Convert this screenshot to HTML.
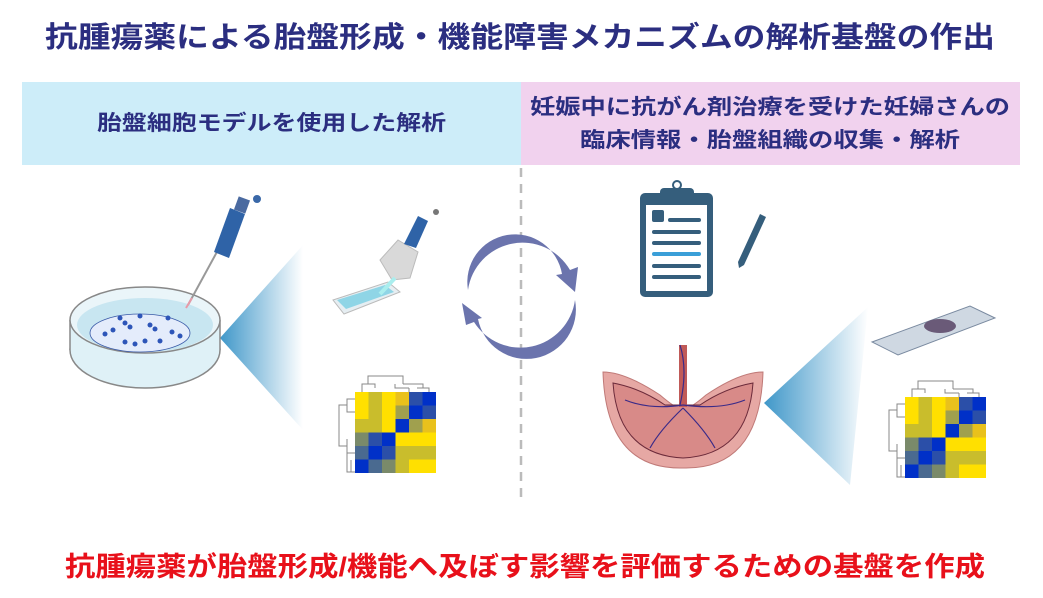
<!DOCTYPE html>
<html><head><meta charset="utf-8"><style>
html,body{margin:0;padding:0;background:#fff;width:1043px;height:598px;overflow:hidden}
svg{display:block}
text{font-family:"Liberation Sans","Noto Sans CJK JP",sans-serif;font-weight:bold}
</style></head><body>
<svg width="1043" height="598" viewBox="0 0 1043 598" xmlns="http://www.w3.org/2000/svg">
<defs>
<linearGradient id="cone" x1="0" x2="1" y1="0" y2="0">
<stop offset="0" stop-color="#3f97c9"/><stop offset="1" stop-color="#3f97c9" stop-opacity="0"/>
</linearGradient>
</defs>
<text x="45" y="47" font-size="29" fill="#2b2e80" textLength="950" lengthAdjust="spacingAndGlyphs">抗腫瘍薬による胎盤形成・機能障害メカニズムの解析基盤の作出</text>
<rect x="22" y="82" width="499" height="83" fill="#cdedf9"/>
<rect x="521" y="82" width="499" height="83" fill="#f1d2ee"/>
<text x="97" y="130" font-size="21" fill="#2b2e80" textLength="349" lengthAdjust="spacingAndGlyphs">胎盤細胞モデルを使用した解析</text>
<text x="530" y="114" font-size="21" fill="#2b2e80" textLength="480" lengthAdjust="spacingAndGlyphs">妊娠中に抗がん剤治療を受けた妊婦さんの</text>
<text x="580" y="147" font-size="21" fill="#2b2e80" textLength="380" lengthAdjust="spacingAndGlyphs">臨床情報・胎盤組織の収集・解析</text>
<line x1="521" y1="168" x2="521" y2="502" stroke="#bbb" stroke-width="2.5" stroke-dasharray="9,7"/>

<!-- cycle arrows -->
<path d="M468 290 A55 55 0 0 1 570 270 L578 267 L575 292 L556 275 L562 274 A46 46 0 0 0 468 290 Z" fill="#6b74ad"/>
<path d="M575 300 A55 55 0 0 1 474 322 L466 325 L462 303 L482 318 L478 319 A46 46 0 0 0 575 300 Z" fill="#6b74ad"/>

<!-- cones -->
<polygon points="220,338 303,245 303,430" fill="url(#cone)"/>
<polygon points="764,403 868,307 850,485" fill="url(#cone)"/>

<!-- petri dish -->
<ellipse cx="145" cy="350" rx="75" ry="38" fill="#dff1f7" stroke="#888" stroke-width="1.5"/>
<rect x="70" y="320" width="150" height="30" fill="#dff1f7"/>
<line x1="70" y1="320" x2="70" y2="350" stroke="#888" stroke-width="1.5"/>
<line x1="220" y1="320" x2="220" y2="350" stroke="#888" stroke-width="1.5"/>
<ellipse cx="145" cy="320" rx="75" ry="33" fill="#eaf5f9" stroke="#888" stroke-width="1.5"/>
<ellipse cx="145" cy="325" rx="68" ry="27" fill="#c8e6f1"/>
<ellipse cx="140" cy="333" rx="50" ry="19" fill="#e4ecfb" stroke="#3a5aa8" stroke-width="0.8"/>
<g fill="#2d55b8">
<circle cx="105" cy="334" r="2.5"/><circle cx="113" cy="330" r="2.5"/><circle cx="125" cy="323" r="2.5"/><circle cx="130" cy="327" r="2.5"/><circle cx="150" cy="325" r="2.5"/><circle cx="155" cy="329" r="2.5"/><circle cx="145" cy="341" r="2.5"/><circle cx="160" cy="341" r="2.5"/><circle cx="172" cy="332" r="2.5"/><circle cx="180" cy="336" r="2.5"/><circle cx="125" cy="342" r="2.5"/><circle cx="168" cy="318" r="2.5"/><circle cx="140" cy="316" r="2.5"/><circle cx="120" cy="318" r="2.5"/><circle cx="135" cy="344" r="2.5"/>
</g>
<!-- pipette -->
<line x1="188" y1="305" x2="218" y2="250" stroke="#999" stroke-width="2"/>
<line x1="186" y1="308" x2="192" y2="298" stroke="#e89aa8" stroke-width="2"/>
<path d="M214 252 L230 208 L245 214 L229 258 Z" fill="#2f63a7"/>
<rect x="236" y="198" width="12" height="14" fill="#4a6aa0" transform="rotate(20 242 205)"/>
<circle cx="257" cy="199" r="4" fill="#3a68a8"/>
<!-- multichannel pipette & plate -->
<path d="M333 300 L388 282 L400 292 L344 314 Z" fill="#e6eef2" stroke="#bbb"/>
<path d="M337 300 L385 285 L394 292 L346 309 Z" fill="#8fd5e6"/>
<path d="M380 260 L398 240 L418 252 L410 278 L392 280 Z" fill="#d9d9d9" stroke="#bbb"/>
<line x1="395" y1="278" x2="380" y2="294" stroke="#aee" stroke-width="4"/>
<path d="M404 244 L418 216 L428 221 L416 248 Z" fill="#2f63a7"/>
<circle cx="436" cy="212" r="3" fill="#777"/>

<!-- clipboard -->
<rect x="640" y="193" width="73" height="104" rx="5" fill="#355e7c"/>
<rect x="646" y="205" width="61" height="86" fill="#fff"/>
<rect x="660" y="188" width="34" height="12" rx="4" fill="#355e7c"/>
<circle cx="677" cy="185" r="4" fill="none" stroke="#355e7c" stroke-width="2"/>
<rect x="652" y="210" width="12" height="12" rx="2" fill="#355e7c"/>
<g stroke="#355e7c" stroke-width="4" stroke-linecap="round">
<line x1="670" y1="220" x2="699" y2="220"/><line x1="654" y1="232" x2="699" y2="232"/><line x1="654" y1="243" x2="699" y2="243"/><line x1="654" y1="266" x2="699" y2="266"/><line x1="654" y1="277" x2="699" y2="277"/>
</g>
<line x1="654" y1="254" x2="699" y2="254" stroke="#3a9fd8" stroke-width="4" stroke-linecap="round"/>
<path d="M738 262 L760 214 L766 217 L744 265 L739 268 Z" fill="#355e7c"/>

<!-- slide -->
<path d="M872 342 L970 306 L995 318 L898 355 Z" fill="#cfd8e2" stroke="#7a8aa0"/>
<ellipse cx="940" cy="326" rx="16" ry="7" fill="#6a5a78"/>

<!-- placenta -->
<path d="M603 372 Q625 372 660 395 Q675 408 683 410 Q691 408 706 395 Q740 372 763 372 Q760 470 683 468 Q606 470 603 372 Z" fill="#e6a8a4" stroke="#c07a78"/>
<path d="M613 383 Q640 388 665 405 L700 405 Q725 388 753 383 Q748 455 683 458 Q618 455 613 383 Z" fill="#d88a88" stroke="#6b2a3a" stroke-width="1"/>
<rect x="679" y="345" width="8" height="62" fill="#c05a58"/>
<g stroke="#3a2a88" stroke-width="1.2" fill="none">
<path d="M683 405 Q650 410 625 400"/><path d="M683 405 Q720 410 745 400"/><path d="M683 408 Q660 430 650 448"/><path d="M683 408 Q705 430 715 448"/><path d="M680 345 Q688 370 680 405"/>
</g>

<!-- heatmaps -->
<g id="hm1" transform="translate(355,392)">
<g stroke="#888" fill="none" stroke-width="1">
<path d="M7 0 V-8 H20 V-4 M13 -8 V-16 H48 V-8 M54 0 V-4 M40 -8 V-4 H54 M62 -4 H74 V0 M68 -4 V-8 H48"/>
<path d="M0 7 H-8 V20 H0 M-8 13 H-16 V54 H-8 M-8 47 V61 H0 M-8 61 V80 H0 M-4 68 V80"/>
</g>
<rect x="0" y="0" width="13.5" height="13.5" fill="#ffe000"/><rect x="13.5" y="0" width="13.5" height="13.5" fill="#c9bd2c"/><rect x="27" y="0" width="13.5" height="13.5" fill="#ffe000"/><rect x="40.5" y="0" width="13.5" height="13.5" fill="#e9c11c"/><rect x="54" y="0" width="13.5" height="13.5" fill="#2b4fa8"/><rect x="67.5" y="0" width="13.5" height="13.5" fill="#0030c8"/>
<rect x="0" y="13.5" width="13.5" height="13.5" fill="#ffe000"/><rect x="13.5" y="13.5" width="13.5" height="13.5" fill="#c9bd2c"/><rect x="27" y="13.5" width="13.5" height="13.5" fill="#ffe000"/><rect x="40.5" y="13.5" width="13.5" height="13.5" fill="#a0a04e"/><rect x="54" y="13.5" width="13.5" height="13.5" fill="#0030c8"/><rect x="67.5" y="13.5" width="13.5" height="13.5" fill="#2b4fa8"/>
<rect x="0" y="27" width="13.5" height="13.5" fill="#c9bd2c"/><rect x="13.5" y="27" width="13.5" height="13.5" fill="#c9bd2c"/><rect x="27" y="27" width="13.5" height="13.5" fill="#ffe000"/><rect x="40.5" y="27" width="13.5" height="13.5" fill="#0030c8"/><rect x="54" y="27" width="13.5" height="13.5" fill="#a0a04e"/><rect x="67.5" y="27" width="13.5" height="13.5" fill="#e9c11c"/>
<rect x="0" y="40.5" width="13.5" height="13.5" fill="#7a8a6a"/><rect x="13.5" y="40.5" width="13.5" height="13.5" fill="#2b4fa8"/><rect x="27" y="40.5" width="13.5" height="13.5" fill="#0030c8"/><rect x="40.5" y="40.5" width="13.5" height="13.5" fill="#ffe000"/><rect x="54" y="40.5" width="13.5" height="13.5" fill="#ffe000"/><rect x="67.5" y="40.5" width="13.5" height="13.5" fill="#ffe000"/>
<rect x="0" y="54" width="13.5" height="13.5" fill="#4a6a90"/><rect x="13.5" y="54" width="13.5" height="13.5" fill="#0030c8"/><rect x="27" y="54" width="13.5" height="13.5" fill="#2b4fa8"/><rect x="40.5" y="54" width="13.5" height="13.5" fill="#c9bd2c"/><rect x="54" y="54" width="13.5" height="13.5" fill="#c9bd2c"/><rect x="67.5" y="54" width="13.5" height="13.5" fill="#c9bd2c"/>
<rect x="0" y="67.5" width="13.5" height="13.5" fill="#0030c8"/><rect x="13.5" y="67.5" width="13.5" height="13.5" fill="#4a6a90"/><rect x="27" y="67.5" width="13.5" height="13.5" fill="#7a8a6a"/><rect x="40.5" y="67.5" width="13.5" height="13.5" fill="#c9bd2c"/><rect x="54" y="67.5" width="13.5" height="13.5" fill="#ffe000"/><rect x="67.5" y="67.5" width="13.5" height="13.5" fill="#ffe000"/>
</g>
<use href="#hm1" x="550" y="5"/>

<text x="65" y="576" font-size="27" fill="#e8101a" textLength="920" lengthAdjust="spacingAndGlyphs">抗腫瘍薬が胎盤形成/機能へ及ぼす影響を評価するための基盤を作成</text>
</svg>
</body></html>
